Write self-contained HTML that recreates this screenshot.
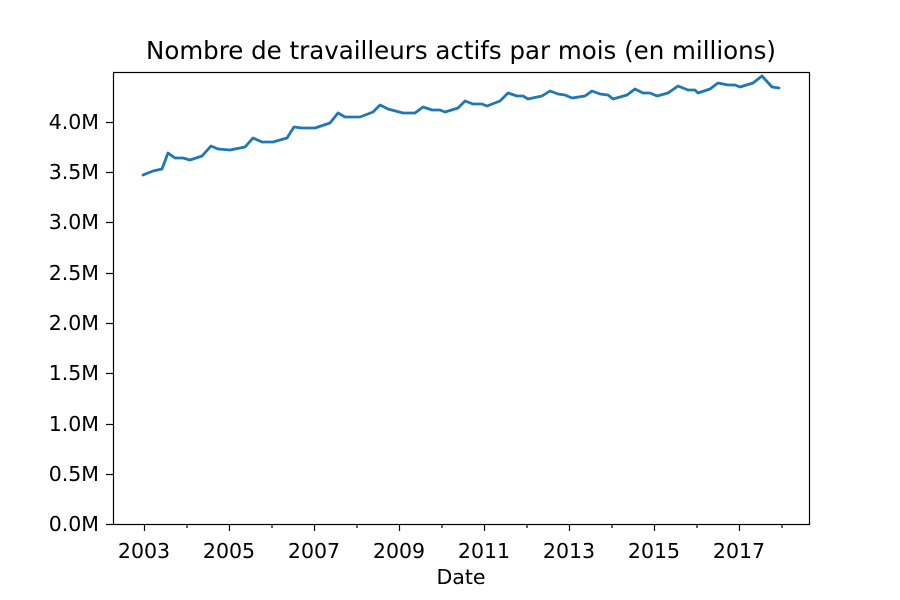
<!DOCTYPE html>
<html><head><meta charset="utf-8"><style>body{margin:0;background:#fff}svg{display:block}text{font-family:"DejaVu Sans","Liberation Sans",sans-serif;fill:#000}</style></head>
<body>
<svg width="900" height="600" viewBox="0 0 900 600">
<rect width="900" height="600" fill="#fff"/>
<text x="461" y="59" font-size="24.5" text-anchor="middle">Nombre de travailleurs actifs par mois (en millions)</text>
<polyline fill="none" stroke="#1f77b4" stroke-width="2.8" stroke-linejoin="round" stroke-linecap="round" points="143,175 153,171 162,169 168,153 175,158 183,158 190,160 202,156 211,146 218,149 230,150 245,147 253,138 262,142 273,142 287,138 294,127 302,128 315,128 330,123 338,113 345,117 360,117 373,112 380,105 388,109 403,113 415,113 423,107 432,110 440,110 445,112 458,108 465,101 473,104 482,104 487,106 500,101 508,93 517,96 523,96 528,99 542,96 550,91 558,94 565,95 572,98 585,96 592,91 600,94 608,95 613,99 627,95 635,89 643,93 650,93 657,96 668,93 678,86 688,90 695,90 698,93 710,89 718,83 728,85 735,85 740,87 753,83 762,76 772,87 779,88"/>
<rect x="113.5" y="72.5" width="696" height="452" fill="none" stroke="#000" stroke-width="1.2"/>
<g stroke="#000" stroke-width="1.2">
<line x1="113" y1="524.5" x2="106" y2="524.5"/><line x1="113" y1="474.5" x2="106" y2="474.5"/><line x1="113" y1="424.5" x2="106" y2="424.5"/><line x1="113" y1="373.5" x2="106" y2="373.5"/><line x1="113" y1="323.5" x2="106" y2="323.5"/><line x1="113" y1="273.5" x2="106" y2="273.5"/><line x1="113" y1="222.5" x2="106" y2="222.5"/><line x1="113" y1="172.5" x2="106" y2="172.5"/><line x1="113" y1="122.5" x2="106" y2="122.5"/>
<line x1="144.5" y1="524" x2="144.5" y2="531"/><line x1="229.5" y1="524" x2="229.5" y2="531"/><line x1="314.5" y1="524" x2="314.5" y2="531"/><line x1="399.5" y1="524" x2="399.5" y2="531"/><line x1="484.5" y1="524" x2="484.5" y2="531"/><line x1="569.5" y1="524" x2="569.5" y2="531"/><line x1="654.5" y1="524" x2="654.5" y2="531"/><line x1="739.5" y1="524" x2="739.5" y2="531"/>
<line x1="187" y1="524" x2="187" y2="528"/><line x1="272" y1="524" x2="272" y2="528"/><line x1="357" y1="524" x2="357" y2="528"/><line x1="442" y1="524" x2="442" y2="528"/><line x1="527" y1="524" x2="527" y2="528"/><line x1="612" y1="524" x2="612" y2="528"/><line x1="697" y1="524" x2="697" y2="528"/><line x1="782" y1="524" x2="782" y2="528"/>
</g>
<g font-size="20.5" text-anchor="end">
<text x="99" y="531">0.0M</text><text x="99" y="481">0.5M</text><text x="99" y="431">1.0M</text><text x="99" y="380">1.5M</text><text x="99" y="330">2.0M</text><text x="99" y="280">2.5M</text><text x="99" y="229">3.0M</text><text x="99" y="179">3.5M</text><text x="99" y="129">4.0M</text>
</g>
<g font-size="20.5" text-anchor="middle">
<text x="144" y="558">2003</text><text x="229" y="558">2005</text><text x="314" y="558">2007</text><text x="399" y="558">2009</text><text x="484" y="558">2011</text><text x="569" y="558">2013</text><text x="654" y="558">2015</text><text x="739" y="558">2017</text>
<text x="461" y="584">Date</text>
</g>
</svg>
</body></html>
